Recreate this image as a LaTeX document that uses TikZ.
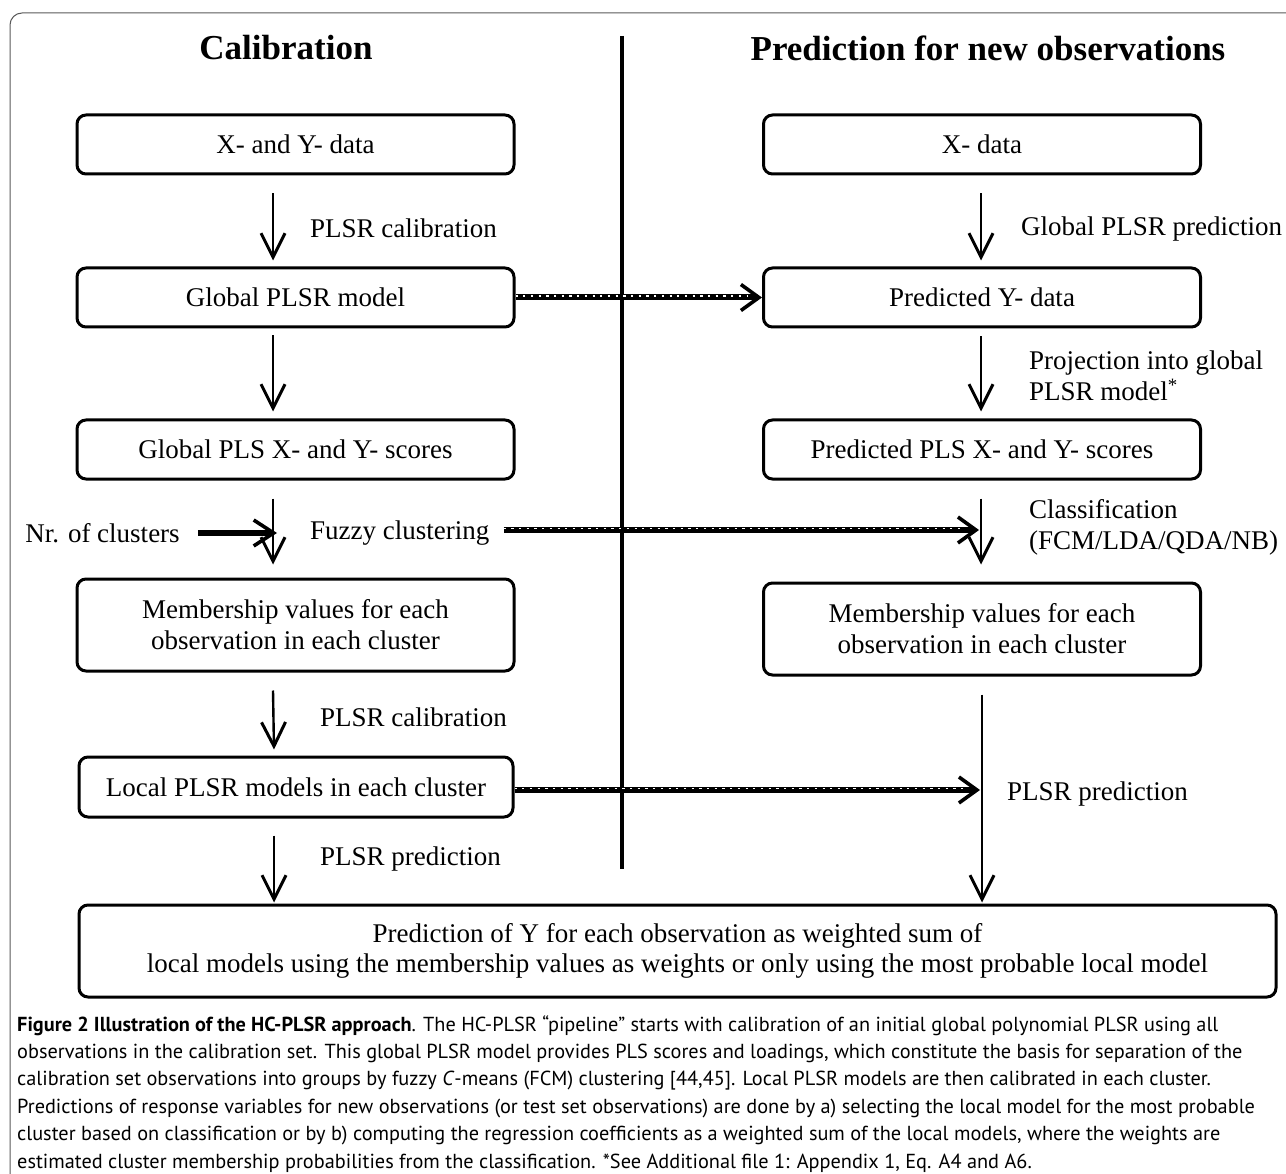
\documentclass[tikz,border=0pt]{standalone}
\usepackage{fontspec}
\setmainfont{Liberation Serif}
\newfontfamily\capfont[Ligatures=TeX]{PT Sans}
\usetikzlibrary{arrows.meta}
\tikzset{
  box/.style={draw, line width=3pt, rounded corners=9pt, minimum width=437pt, minimum height=59pt, align=center, inner sep=0pt, font=\fontsize{27}{31}\selectfont},
  lbl/.style={anchor=west, align=left, inner sep=0pt, font=\fontsize{27}{31}\selectfont},
  ttl/.style={inner sep=0pt, font=\fontsize{35}{40}\selectfont\bfseries},
  arr/.style={line width=2.4pt, -{Straight Barb[length=24pt,width=24pt,line width=3pt]}},
  thickarr/.style={line width=5.5pt, -{Straight Barb[length=20pt,width=26pt,line width=3.6pt]}},
  dbase/.style={line width=6pt, -{Straight Barb[length=18pt,width=26pt,line width=3.6pt]}},
  dtop/.style={white, line width=1.4pt, dash pattern=on 2.2pt off 5.5pt},
}
\begin{document}
\begin{tikzpicture}[x=1pt,y=-1pt]
\useasboundingbox (0,0) rectangle (1286,1174);
\begin{scope}
\clip (0,0) rectangle (1286,1174);
\draw[gray!70!black, line width=1pt, rounded corners=12pt] (10,13) rectangle (1310,1200);
\end{scope}
% titles
\node[ttl] (tcal) at (286,48) {Calibration};
\node[ttl] (tpred) at (988,48) {Prediction for new observations};
% divider
\coordinate (dtop) at (622,36);
\coordinate (dbot) at (622,869);
\draw[line width=4pt] (dtop) -- (dbot);
% left column
\node[box] (xy) at (295.5,144.5) {X- and Y- data};
\node[box] (gm) at (295.5,297.5) {Global PLSR model};
\node[box] (gs) at (295.5,449.5) {Global PLS X- and Y- scores};
\node[box, minimum height=92pt] (mv) at (295.5,625) {Membership values for each\\observation in each cluster};
\node[box, minimum width=434pt, minimum height=60pt] (lm) at (296,787) {Local PLSR models in each cluster};
% right column
\node[box] (xd) at (982,144.5) {X- data};
\node[box] (py) at (982,297.5) {Predicted Y- data};
\node[box] (ps) at (982,449.5) {Predicted PLS X- and Y- scores};
\node[box, minimum height=92pt] (mvr) at (982,629) {Membership values for each\\observation in each cluster};
% final
\node[box, minimum width=1197pt, minimum height=92pt, font=\fontsize{27}{30}\selectfont] (fin) at (677.5,951) {Prediction of Y for each observation as weighted sum of\\local models using the membership values as weights or only using the most probable local model};
% left arrows
\draw[arr] ([xshift=-22.5pt,yshift=-18pt]xy.south) -- ([xshift=-22.5pt,yshift=6pt]gm.north);
\draw[arr] ([xshift=-22.5pt,yshift=-7pt]gm.south) -- ([xshift=-22.5pt,yshift=7pt]gs.north);
\draw[arr] ([xshift=-22.5pt,yshift=-18pt]gs.south) -- ([xshift=-22.5pt,yshift=13pt]mv.north);
\draw[arr] ([xshift=-22.5pt,yshift=-18pt]mv.south) -- ([xshift=-22pt,yshift=6pt]lm.north);
\coordinate (lmx) at ([xshift=-22pt]lm.south);
\draw[arr] ([xshift=-22pt,yshift=-17pt]lm.south) -- ([yshift=1pt]lmx |- fin.north);
% right arrows
\draw[arr] ([xshift=-1pt,yshift=-18pt]xd.south) -- ([xshift=-1pt,yshift=6pt]py.north);
\draw[arr] ([xshift=-1pt,yshift=-8pt]py.south) -- ([xshift=-1pt,yshift=7pt]ps.north);
\draw[arr] ([xshift=-1pt,yshift=-18pt]ps.south) -- ([xshift=-1pt,yshift=17pt]mvr.north);
\draw[arr] ([yshift=-18pt]mvr.south) -- ([yshift=1pt]mvr.south |- fin.north);
% labels
\node[lbl] (l1) at (310,228) {PLSR calibration};
\node[lbl] (r1) at (1021,229) {Global PLSR prediction};
\node[lbl] (r2) at (1029,376) {Projection into global\\PLSR model\textsuperscript{*}};
\node[lbl] (r3) at (1029,527) {Classification\\(FCM/LDA/QDA/NB)};
\node[lbl, anchor=center] (nr) at (102.5,533) {Nr. of clusters};
\node[lbl] (fz) at (310,533) {Fuzzy clustering};
\node[lbl] (l2) at (320,717) {PLSR calibration};
\node[lbl] (l3) at (320,859) {PLSR prediction};
\node[lbl] (r4) at (1007,794) {PLSR prediction};
% nr of clusters arrow
\coordinate (nrtip) at (277,533);
\draw[thickarr] ([xshift=18pt]nr.east) -- (nrtip);
% dashed arrows
\coordinate (fztip) at (979,530);
\coordinate (lmtip) at (980,790);
\draw[dbase] (gm.east) -- (py.west);
\draw[dtop] ([yshift=1.5pt]gm.east) -- ([yshift=1.5pt,xshift=-14pt]py.west);
\draw[dbase] ([xshift=14pt]fz.east |- fztip) -- (fztip);
\draw[dtop] ([xshift=14pt,yshift=1.5pt]fz.east |- fztip) -- ([xshift=-14pt,yshift=1.5pt]fztip);
\draw[dbase] (lm.east |- lmtip) -- (lmtip);
\draw[dtop] ([yshift=1.5pt]lm.east |- lmtip) -- ([xshift=-14pt,yshift=1.5pt]lmtip);
% caption
\node[anchor=base west, align=left, inner sep=0pt, font=\capfont\fontsize{20.3}{27.4}\selectfont] (cap) at (17,1168) {%
\textbf{Figure 2 Illustration of the HC-PLSR approach}. The HC-PLSR “pipeline” starts with calibration of an initial global polynomial PLSR using all\\
observations in the calibration set. This global PLSR model provides PLS scores and loadings, which constitute the basis for separation of the\\
calibration set observations into groups by fuzzy \textit{C}-means (FCM) clustering [44,45]. Local PLSR models are then calibrated in each cluster.\\
Predictions of response variables for new observations (or test set observations) are done by a) selecting the local model for the most probable\\
cluster based on classification or by b) computing the regression coefficients as a weighted sum of the local models, where the weights are\\
estimated cluster membership probabilities from the classification. *See Additional file 1: Appendix 1, Eq. A4 and A6.};
\end{tikzpicture}
\end{document}
